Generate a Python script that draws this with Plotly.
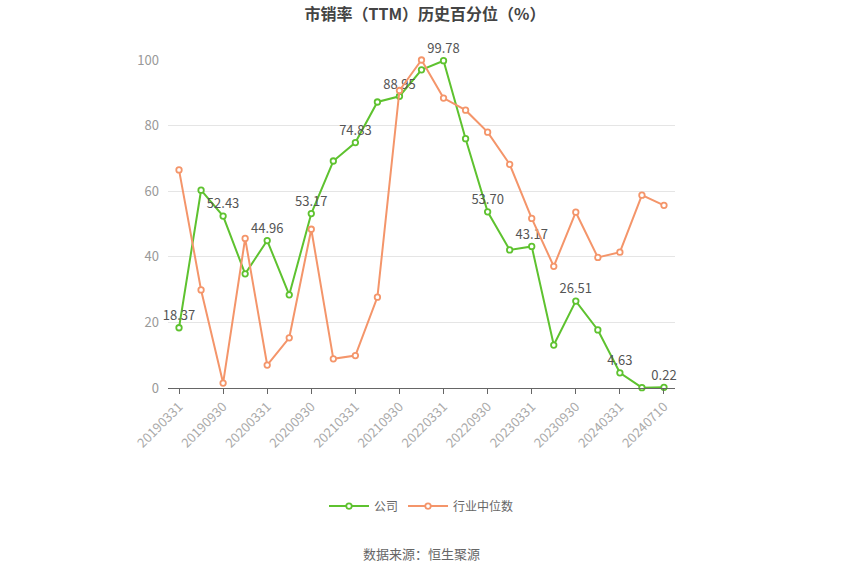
import plotly.graph_objects as go

dates = ["20190331","20190630","20190930","20191231","20200331","20200630","20200930","20201231",
         "20210331","20210630","20210930","20211231","20220331","20220630","20220930","20221231",
         "20230331","20230630","20230930","20231231","20240331","20240630","20240710"]
company = [18.37, 60.3, 52.43, 34.8, 44.96, 28.4, 53.17, 69.2, 74.83, 87.2, 88.95, 97.0, 99.78,
           76.0, 53.70, 42.1, 43.17, 13.1, 26.51, 17.7, 4.63, 0.1, 0.22]
industry = [66.5, 29.9, 1.5, 45.6, 7.0, 15.3, 48.4, 8.9, 9.9, 27.7, 90.7, 100.0, 88.4, 84.7,
            78.0, 68.2, 51.7, 37.1, 53.6, 39.8, 41.4, 58.8, 55.7]
y_ticks = [0, 20, 40, 60, 80, 100]

green = "#5ec22f"
orange = "#f4956a"
font_family = "Noto Sans CJK SC, Noto Sans, sans-serif"

x_idx = list(range(len(dates)))
labels = [f"{v:.2f}" if i % 2 == 0 else "" for i, v in enumerate(company)]

fig = go.Figure()
fig.add_trace(go.Scatter(
    x=x_idx, y=company, name="公司", mode="lines+markers+text",
    line=dict(color=green, width=2),
    marker=dict(symbol="circle", size=5.5, color="white", line=dict(color=green, width=1.8)),
    text=labels, textposition="top center", cliponaxis=False,
    textfont=dict(color="#555555", size=13, family=font_family),
))
fig.add_trace(go.Scatter(
    x=x_idx, y=industry, name="行业中位数", mode="lines+markers", cliponaxis=False,
    line=dict(color=orange, width=2),
    marker=dict(symbol="circle", size=5.5, color="white", line=dict(color=orange, width=1.8)),
))

fig.update_layout(
    width=850, height=575,
    margin=dict(l=168, r=175, t=60, b=187),
    paper_bgcolor="white", plot_bgcolor="white",
    font=dict(family=font_family, color="#999999", size=12),
    title=dict(text="<b>市销率（TTM）历史百分位（%）</b>", x=0.5, xanchor="center",
               y=0.975, yanchor="middle", font=dict(size=16, color="#444444", family=font_family)),
    showlegend=True,
    legend=dict(orientation="h", x=0.5, xanchor="center", y=-0.36, yanchor="middle",
                font=dict(size=12, color="#666666", family=font_family), itemwidth=40),
    xaxis=dict(
        range=[-0.5, len(dates) - 0.5],
        tickmode="array", tickvals=x_idx[::2], ticktext=dates[::2],
        tickangle=-45, ticks="outside", ticklen=5, tickcolor="#666666",
        showline=True, linecolor="#666666", linewidth=1,
        showgrid=False, zeroline=False,
        tickfont=dict(color="#aaaaaa", size=13),
    ),
    yaxis=dict(
        range=[0, 100], tickvals=y_ticks, showgrid=True, gridcolor="#e5e5e5",
        zeroline=False, showline=False, ticks="", ticklabelstandoff=8,
        tickfont=dict(color="#999999", size=13),
    ),
    annotations=[dict(text="数据来源：恒生聚源", xref="paper", yref="paper", x=0.5, y=-0.506,
                      xanchor="center", yanchor="middle", showarrow=False,
                      font=dict(size=13, color="#666666", family=font_family))],
)

fig.write_html("out.html")
